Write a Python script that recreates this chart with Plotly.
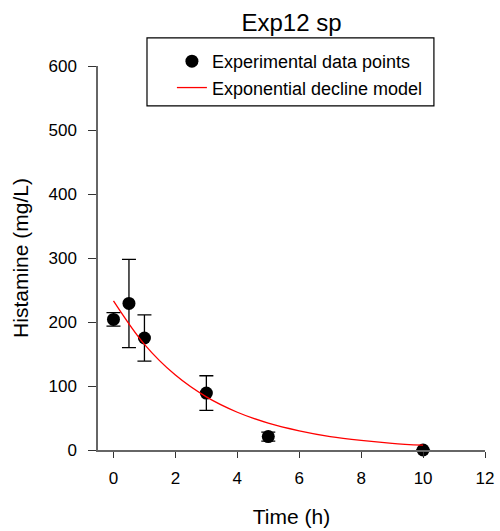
import plotly.graph_objects as go

# Experimental data
time_h = [0, 0.5, 1, 3, 5, 10]
histamine = [204, 229, 175, 89, 21, 0]
err = [10.5, 69, 36, 27, 7, 0]

# Exponential decline model
model_t = [0, 1, 2, 3, 4, 5, 6, 7, 8, 9, 10]
model_y = [233, 165, 117, 83, 59, 42, 30, 21, 15, 10.5, 7.5]

x_ticks = [0, 2, 4, 6, 8, 10, 12]
y_ticks = [0, 100, 200, 300, 400, 500, 600]

FONT = "Liberation Sans, Arial, Helvetica, sans-serif"

fig = go.Figure()
fig.add_trace(go.Scatter(
    x=time_h, y=histamine, mode="markers", name="Experimental data points",
    marker=dict(color="black", size=13),
    error_y=dict(type="data", array=err, visible=True, color="black", thickness=1.3, width=7),
    cliponaxis=False,
))
fig.add_trace(go.Scatter(
    x=model_t, y=model_y, mode="lines", name="Exponential decline model",
    line=dict(color="red", width=1.3, shape="spline"),
))

# legend frame
fig.add_shape(type="rect", xref="paper", yref="paper",
              x0=0.1266, x1=0.868, y0=0.896, y1=1.073,
              line=dict(color="black", width=1.2), fillcolor="rgba(0,0,0,0)")

fig.update_layout(
    width=500, height=531,
    margin=dict(l=98, r=15, t=66, b=81, autoexpand=False),
    paper_bgcolor="white", plot_bgcolor="white",
    font=dict(family=FONT, color="black", size=17),
    title=dict(text="Exp12 sp", x=0.5, xref="paper", xanchor="center",
               y=1 - 22.5 / 531, yref="container", yanchor="middle", font=dict(size=24)),
    showlegend=True,
    legend=dict(x=0.191, y=1.06, xanchor="left", yanchor="top",
                borderwidth=0, bgcolor="rgba(0,0,0,0)",
                font=dict(size=18), tracegroupgap=0),
    xaxis=dict(range=[-0.5, 12], tickvals=x_ticks, ticktext=[str(v) for v in x_ticks],
               showgrid=False, zeroline=False, showline=True, linecolor="#666", linewidth=1.5,
               ticks="outside", ticklen=6, tickcolor="#333", tickwidth=1.2,
               ticklabelstandoff=6, automargin=False,
               title=dict(text="Time (h)", font=dict(size=21), standoff=22),
               tickfont=dict(size=17)),
    yaxis=dict(range=[0, 600], tickvals=y_ticks, ticktext=[str(v) for v in y_ticks],
               showgrid=False, zeroline=False, showline=True, linecolor="#666", linewidth=1.5,
               ticks="outside", ticklen=8, tickcolor="#333", tickwidth=1.2,
               ticklabelstandoff=8, automargin=False,
               title=dict(text="Histamine (mg/L)", font=dict(size=21), standoff=14),
               tickfont=dict(size=17)),
)

fig.write_html("out.html")
